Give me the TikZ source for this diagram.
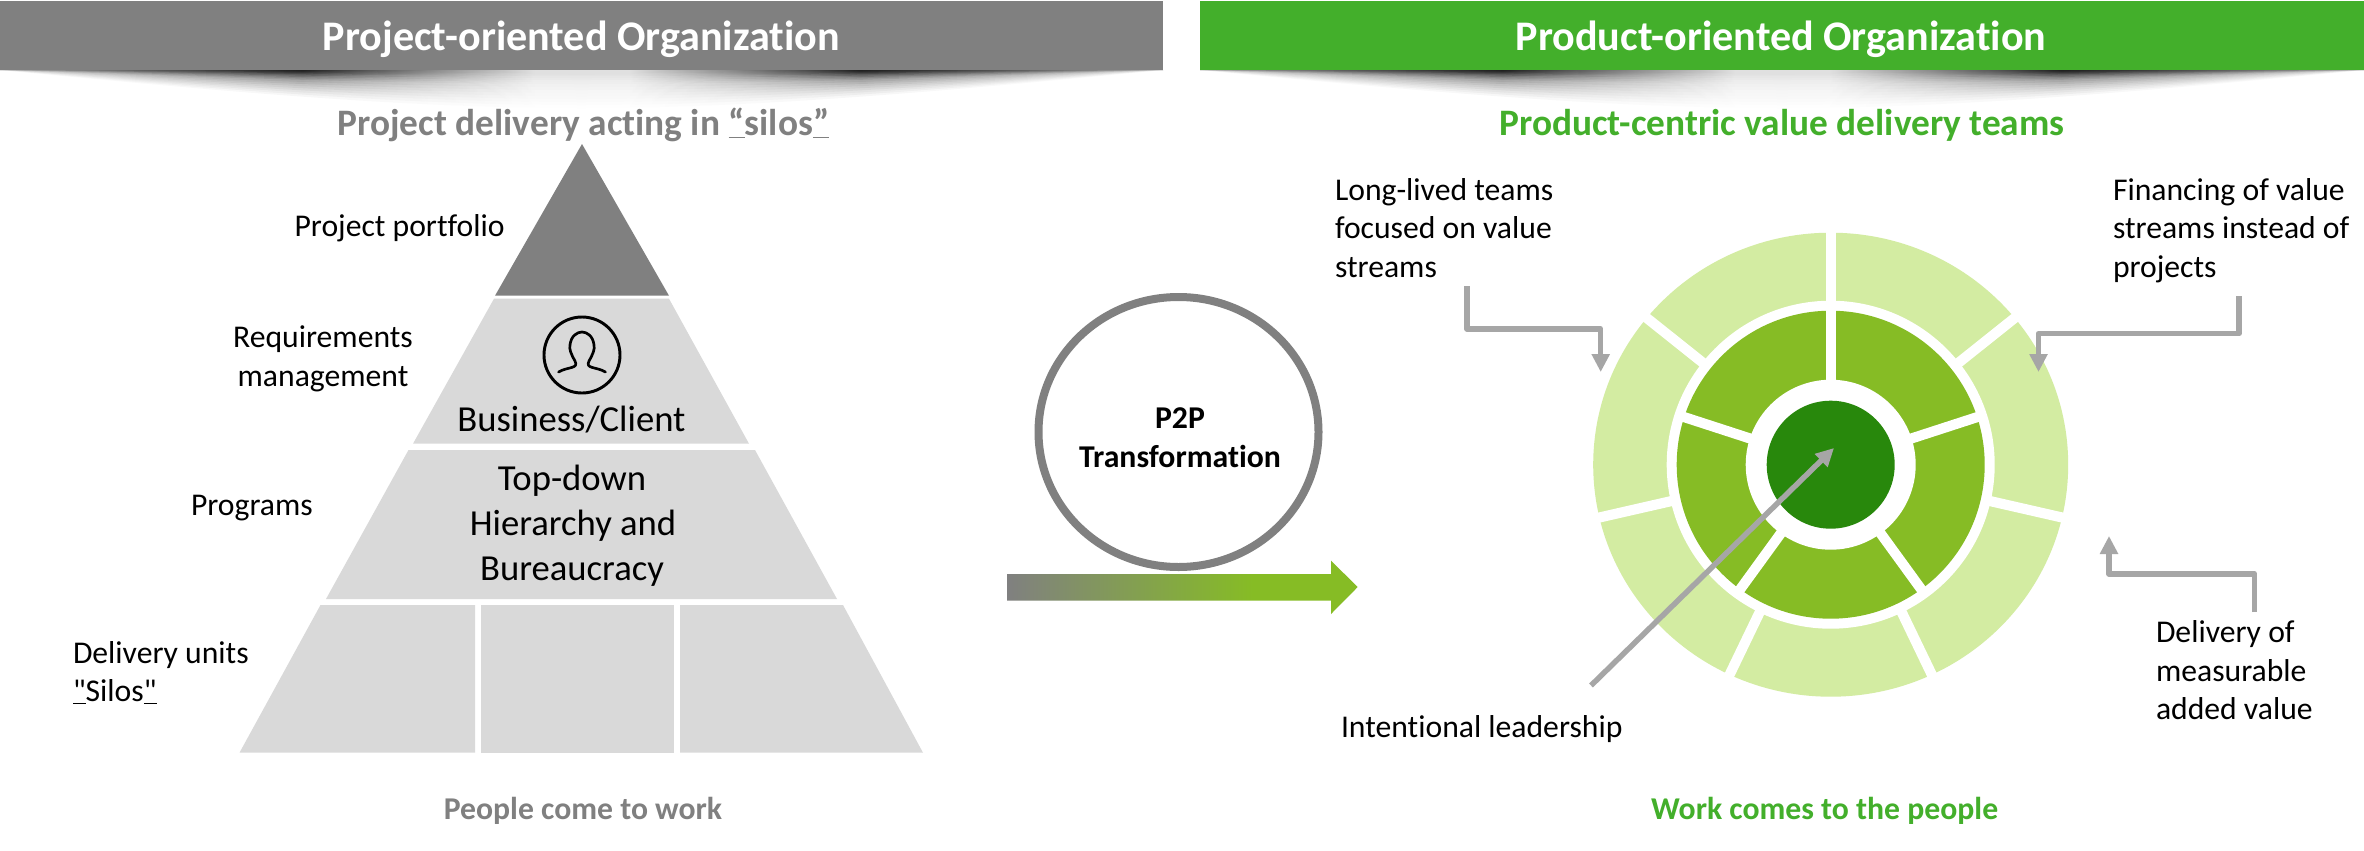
\documentclass[tikz,border=0pt]{standalone}
\usepackage{fontspec}
\usetikzlibrary{arrows.meta}
\newfontfamily\calib[Ligatures=NoCommon]{Carlito}
\definecolor{hgray}{HTML}{808080}
\definecolor{hgreen}{HTML}{43AF2B}
\definecolor{pgray}{HTML}{D9D9D9}
\definecolor{ringA}{HTML}{D3ECA2}
\definecolor{ringB}{HTML}{86BC25}
\definecolor{ringC}{HTML}{28880C}
\definecolor{arrgray}{HTML}{A6A6A6}
\pgfdeclarehorizontalshading{hdrshade}{100bp}{
  color(0bp)=(black!40); color(25bp)=(black!40); color(32.5bp)=(black!75);
  color(38bp)=(black!95); color(44bp)=(black!45); color(48bp)=(black!12);
  color(52bp)=(black!12); color(56bp)=(black!45); color(62bp)=(black!95); color(67.5bp)=(black!75);
  color(75bp)=(black!40); color(100bp)=(black!40)}
\pgfdeclarehorizontalshading{arrshade}{100bp}{
  color(0bp)=(hgray); color(25bp)=(hgray); color(60bp)=(ringB); color(100bp)=(ringB)}
\newcommand{\fsz}[2]{\fontsize{#1}{#2}\selectfont}
\tikzset{
  x=0.75pt,y=-0.75pt,
  txt/.style={inner sep=0pt,outer sep=0pt,font=\calib\fsz{23.75pt}{28.9pt}\selectfont,text=black},
  bigtxt/.style={inner sep=0pt,outer sep=0pt,font=\calib\fsz{27.5pt}{33.75pt}\selectfont,text=black},
  titletxt/.style={inner sep=0pt,outer sep=0pt,font=\calib\bfseries\fsz{31.6pt}{36pt}\selectfont,text=white},
  subtxt/.style={inner sep=0pt,outer sep=0pt,font=\calib\bfseries\fsz{28pt}{30pt}\selectfont},
  foottxt/.style={inner sep=0pt,outer sep=0pt,font=\calib\bfseries\fsz{23.8pt}{27pt}\selectfont},
  ptxt/.style={inner sep=0pt,outer sep=0pt,font=\calib\bfseries\fsz{23.8pt}{29.5pt}\selectfont,text=black},
  tier/.style={fill=pgray},
  callout/.style={draw=arrgray,line width=4.1pt,line join=round,-{Triangle[length=13.5pt,width=13pt]}},
}
\begin{document}
\begin{tikzpicture}
\useasboundingbox (0,0) rectangle (2364,850);
\fill[white] (0,0) rectangle (2364,850);
% header shadows
\foreach \d/\o in {1.5/.3,3/.3,4.5/.25,6/.25,8/.2,10/.15,12/.12,14/.1,17/.08,20/.07,23/.06,26/.05,29/.05,32/.04,35/.04,38/.03}{
  \shade[shading=hdrshade,opacity=\o] (0,70) .. controls (523,{70+4*\d/3}) and (640,{70+4*\d/3}) .. (1163,70) -- cycle;
  \shade[shading=hdrshade,opacity=\o] (1200,70) .. controls (1724,{70+4*\d/3}) and (1840,{70+4*\d/3}) .. (2364,70) -- cycle;
}
% headers
\fill[hgray] (0,1) rectangle (1163,70);
\fill[hgreen] (1200,1) rectangle (2364,70);
\node[titletxt,anchor=base] (t1) at (581.5,50) {Project-oriented Organization};
\node[titletxt,anchor=base] (t2) at (1781,50) {Product-oriented Organization};
\node[subtxt,text=hgray,anchor=base] (s1) at (583.5,135) {Project delivery acting in \underline{“}silos\underline{”}};
\node[subtxt,text=hgreen,anchor=base] (s2) at (1782,135) {Product-centric value delivery teams};
% pyramid
\fill[hgray] (582,144) -- (669,295.7) -- (495,295.7) -- cycle;
\fill[tier] (494,298.7) -- (669,298.7) -- (749,443.7) -- (413,443.7) -- cycle;
\fill[tier] (408.5,450) -- (755,450) -- (837,599) -- (326,599) -- cycle;
\fill[tier] (320.5,605) -- (475,605) -- (475,752.7) -- (239.5,752.7) -- cycle;
\fill[tier] (481,605) -- (674,605) -- (674,752.7) -- (481,752.7) -- cycle;
\fill[tier] (680,605) -- (843,605) -- (923,752.7) -- (680,752.7) -- cycle;
% person icon
\begin{scope}[shift={(582,355)}]
  \draw[black,line width=2.2pt] (0,0) circle [radius=38];
  \draw[black,line width=2pt,line cap=round,line join=round]
    (-23.5,17) .. controls (-14,11.5) and (-3,14) .. (-7,6)
    .. controls (-11,-1) and (-13,-6) .. (-12,-10)
    .. controls (-11,-19) and (-5,-23) .. (0,-23)
    .. controls (5,-23) and (11,-19) .. (12,-10)
    .. controls (13,-6) and (11,-1) .. (7,6)
    .. controls (3,14) and (14,11.5) .. (23.5,17);
\end{scope}
\node[bigtxt,anchor=base] (biz) at (571.5,431.7) {Business/Client};
\node[bigtxt,anchor=base] (td1) at (572,490) {Top-down};
\node[bigtxt,anchor=base] (td2) at (573,535) {Hierarchy and};
\node[bigtxt,anchor=base] (td3) at (572,580) {Bureaucracy};
\node[txt,anchor=base west] (pp) at (294.6,236.7) {Project portfolio};
\node[txt,anchor=base] (rm1) at (323,347) {Requirements};
\node[txt,anchor=base] (rm2) at (323,386) {management};
\node[txt,anchor=base west] (prog) at (191,515) {Programs};
\node[txt,anchor=base west] (du1) at (73,663) {Delivery units};
\node[txt,anchor=base west] (du2) at (73,701) {\underline{"}Silos\underline{"}};
\node[foottxt,text=hgray,anchor=base] (f1) at (583,819) {People come to work};
% transformation
\draw[hgray,line width=6pt] (1178.5,432) ellipse [x radius=140,y radius=135];
\node[ptxt,anchor=base] (p1) at (1180,428) {P2P};
\node[ptxt,anchor=base] (p2) at (1180,467.7) {Transformation};
\shade[shading=arrshade] (1007,574) -- (1331,574) -- (1331,560.7) -- (1357.7,587) -- (1331,614) -- (1331,600.7) -- (1007,600.7) -- cycle;
% rings
\begin{scope}[shift={(1830.7,464.7)}]
  \fill[ringA] (0,0) ellipse [x radius=237.5,y radius=232];
  \foreach \k in {0,...,6}{
    \draw[white,line width=7.6pt] ({270+\k*360/7}:150) -- ({270+\k*360/7}:250);
  }
  \fill[white] (0,0) circle [radius=164];
  \fill[ringB] (0,0) circle [radius=154];
  \foreach \k in {0,...,4}{
    \draw[white,line width=7.6pt] ({270+\k*72}:70) -- ({270+\k*72}:160);
  }
  \fill[white] (0,0) circle [radius=85];
  \fill[ringC] (0,0) circle [radius=64];
\end{scope}
% callouts
\node[txt,anchor=base west] (ll1) at (1335,200) {Long-lived teams};
\node[txt,anchor=base west] (ll2) at (1335,238) {focused on value};
\node[txt,anchor=base west] (ll3) at (1335,277) {streams};
\node[txt,anchor=base west] (fi1) at (2113,200) {Financing of value};
\node[txt,anchor=base west] (fi2) at (2113,238) {streams instead of};
\node[txt,anchor=base west] (fi3) at (2113,277) {projects};
\node[txt,anchor=base west] (de1) at (2156,642.7) {Delivery of};
\node[txt,anchor=base west] (de2) at (2156,681) {measurable};
\node[txt,anchor=base west] (de3) at (2156,719) {added value};
\node[txt,anchor=base west] (il) at (1341,737) {Intentional leadership};
\node[foottxt,text=hgreen,anchor=base] (f2) at (1824.7,819) {Work comes to the people};
\coordinate (a1s) at (1467,286);
\coordinate (a1m) at (1467,329);
\coordinate (a1n) at (1600.7,329);
\coordinate (a1e) at (1600.7,372);
\coordinate (a2s) at (2239,296);
\coordinate (a2m) at (2239,333.7);
\coordinate (a2n) at (2038.5,333.7);
\coordinate (a2e) at (2038.5,372);
\coordinate (a3s) at (2254.7,612);
\coordinate (a3m) at (2254.7,574);
\coordinate (a3n) at (2109,574);
\coordinate (a3e) at (2109,536);
\coordinate (a4s) at (1591,685.5);
\coordinate (a4e) at (1834,448);
\draw[callout] (a1s) -- (a1m) -- (a1n) -- (a1e);
\draw[callout] (a2s) -- (a2m) -- (a2n) -- (a2e);
\draw[callout] (a3s) -- (a3m) -- (a3n) -- (a3e);
\draw[callout] (a4s) -- (a4e);
\end{tikzpicture}
\end{document}
